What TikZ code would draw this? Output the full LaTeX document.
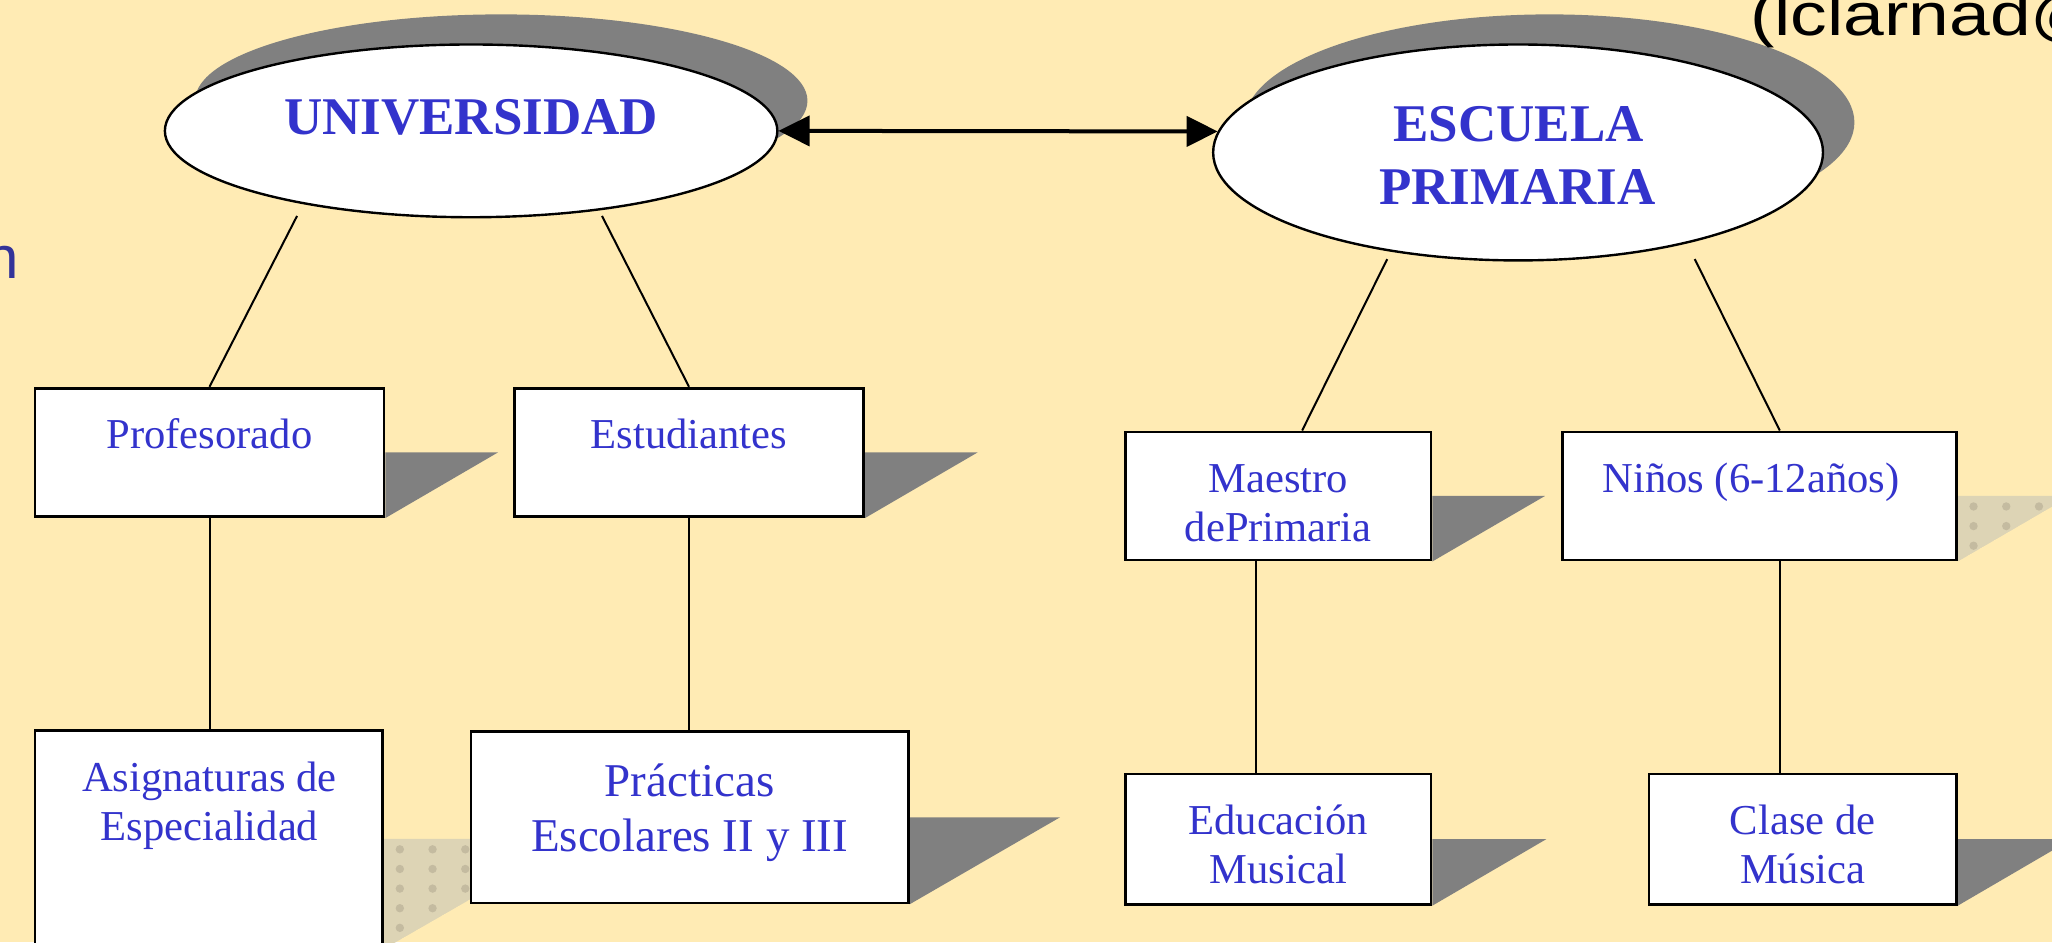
\documentclass[tikz,border=0pt]{standalone}
\usepackage{fontspec}
\usepackage{graphicx}
\setmainfont{Liberation Serif}
\newfontfamily\arialfont{Liberation Sans}
\usetikzlibrary{shapes.geometric,arrows.meta,calc}
\definecolor{bgyellow}{RGB}{255,235,180}
\definecolor{txtblue}{RGB}{51,51,204}
\definecolor{nblue}{RGB}{51,51,153}
\definecolor{shadowgray}{RGB}{128,128,128}
\definecolor{patshadow}{RGB}{221,212,181}
\definecolor{patdot}{RGB}{196,187,160}
\newcommand\pxu{0.6543pt}
\pgfdeclarelayer{bglayer}
\pgfdeclarelayer{shadowlayer}
\pgfsetlayers{bglayer,shadowlayer,main}
\begin{document}
\begin{tikzpicture}[x=0.6543pt,y=-0.6543pt,
  boxnode/.style={draw=black,line width=1.35pt,fill=white,rectangle,inner sep=0pt},
  ellnode/.style={draw=black,line width=1.2pt,fill=white,ellipse,inner sep=0pt},
  ellshadow/.style={fill=shadowgray,ellipse,inner sep=0pt},
  lbl/.style={text=txtblue,inner sep=0pt,anchor=base,font=\fontsize{21.3pt}{25pt}\selectfont},
  biglbl/.style={text=txtblue,inner sep=0pt,anchor=base,font=\fontsize{23.5pt}{28pt}\selectfont},
  head/.style={text=txtblue,inner sep=0pt,anchor=base,font=\bfseries\fontsize{26.5pt}{31pt}\selectfont},
  conn/.style={line width=1pt,draw=black},
  boxshadow/.style={fill=shadowgray},
  patshade/.style={fill=patshadow},
  dbl/.style={line width=2pt,{Triangle[length=15.5pt,width=15pt]}-{Triangle[length=15.5pt,width=15pt]}}
]
\useasboundingbox (0,0) rectangle (1568,720);
\begin{pgfonlayer}{bglayer}
\fill[bgyellow] (0,0) rectangle (1568,720);
\end{pgfonlayer}

% ellipses
\node[ellnode, minimum width=468*\pxu, minimum height=132*\pxu] (univ) at (360,100) {};
\node[ellnode, minimum width=466*\pxu, minimum height=165*\pxu] (esc) at (1160,116.5) {};
\begin{pgfonlayer}{shadowlayer}
\node[ellshadow, minimum width=468*\pxu, minimum height=132*\pxu] (univsh) at (383,77) {};
\node[ellshadow, minimum width=466*\pxu, minimum height=165*\pxu] (escsh) at (1184,93.5) {};
\node[font=\arialfont\fontsize{30pt}{36pt}\selectfont, anchor=base west, inner sep=0pt] (stray) at (1337,27) {\scalebox{1.22}[1]{(lclarnad@}};
\end{pgfonlayer}

\node[head] (univt) at (360,103) {UNIVERSIDAD};
\node[head] (esct1) at (1160.5,108.3) {ESCUELA};
\node[head] (esct2) at (1159.5,156) {PRIMARIA};

\draw[dbl] (univ.east) -- (esc.176);

% left stray letter
\node[font=\arialfont\fontsize{30pt}{36pt}\selectfont, text=nblue, anchor=base east, inner sep=0pt] (leftn) at (14.5,212.6) {n};

% boxes
\node[boxnode, minimum width=266.8*\pxu, minimum height=98.2*\pxu] (prof) at (160.1,345.7) {};
\node[boxnode, minimum width=267*\pxu, minimum height=98.2*\pxu] (est) at (526.5,345.7) {};
\node[boxnode, minimum width=233.5*\pxu, minimum height=98*\pxu] (maes) at (976.75,379) {};
\node[boxnode, minimum width=301*\pxu, minimum height=98*\pxu] (nin) at (1344.5,379) {};
\node[boxnode, minimum width=265.7*\pxu, minimum height=166*\pxu] (asig) at (159.65,641) {};
\node[boxnode, minimum width=334*\pxu, minimum height=131*\pxu] (prac) at (527,624.5) {};
\node[boxnode, minimum width=233.5*\pxu, minimum height=99.5*\pxu] (educ) at (976.75,641.25) {};
\node[boxnode, minimum width=235*\pxu, minimum height=99.5*\pxu] (clase) at (1377.5,641.25) {};

\begin{pgfonlayer}{shadowlayer}
\fill[boxshadow] (prof.east) -- ++(86,0) -- (prof.south east) -- cycle;
\fill[boxshadow] (est.east) -- ++(86,0) -- (est.south east) -- cycle;
\fill[boxshadow] (maes.east) -- ++(86,0) -- (maes.south east) -- cycle;
\begin{scope}
\clip (nin.east) -- ++(86,0) -- (nin.south east) -- cycle;
\fill[patshade] (nin.east) -- ++(86,0) -- (nin.south east) -- cycle;
\foreach \i in {0,...,3}{\foreach \j in {0,...,3}{
  \fill[patdot] ($(nin.east)+(12+25*\i,8+15*\j)$) circle[radius=3.2*\pxu];}}
\end{scope}
\begin{scope}
\clip (asig.east) -- ++(146,0) -- (asig.south east) -- cycle;
\fill[patshade] (asig.east) -- ++(146,0) -- (asig.south east) -- cycle;
\foreach \i in {0,...,5}{\foreach \j in {0,...,5}{
  \fill[patdot] ($(asig.east)+(12+25*\i,8+15*\j)$) circle[radius=3.2*\pxu];}}
\end{scope}
\fill[boxshadow] (prac.east) -- ++(115,0) -- (prac.south east) -- cycle;
\fill[boxshadow] (educ.east) -- ++(87,0) -- (educ.south east) -- cycle;
\fill[boxshadow] (clase.east) -- ++(87,0) -- (clase.south east) -- cycle;
\end{pgfonlayer}

% box texts
\node[lbl] (proft) at (160.1,343) {Profesorado};
\node[lbl] (estt) at (526.5,343) {Estudiantes};
\node[lbl] (maest1) at (976.75,376) {Maestro};
\node[lbl] (maest2) at (976.75,413.5) {dePrimaria};
\node[lbl] (nint) at (1338,376) {Niños (6-12años)};
\node[lbl] (asigt1) at (160,605) {Asignaturas de};
\node[lbl] (asigt2) at (160,642) {Especialidad};
\node[biglbl] (pract1) at (527,609) {Prácticas};
\node[biglbl] (pract2) at (527,651) {Escolares II y III};
\node[lbl] (educt1) at (976.75,637.7) {Educación};
\node[lbl] (educt2) at (976.75,675) {Musical};
\node[lbl] (claset1) at (1377.5,637.7) {Clase de};
\node[lbl] (claset2) at (1377.5,675) {Música};

% connectors
\coordinate (u1) at (227,165);
\coordinate (u2) at (460,165);
\coordinate (e1) at (1060,198);
\coordinate (e2) at (1295,198);
\coordinate (xmt) at (995,0);
\coordinate (xm) at (960,0);
\coordinate (xn) at (1360,0);
\draw[conn] (u1) -- (prof.north);
\draw[conn] (u2) -- (est.north);
\draw[conn] (e1) -- (maes.north -| xmt);
\draw[conn] (e2) -- (nin.north -| xn);
\draw[conn] (prof.south) -- (prof.south |- asig.north);
\draw[conn] (est.south) -- (est.south |- prac.north);
\draw[conn] (maes.south -| xm) -- (educ.north -| xm);
\draw[conn] (nin.south -| xn) -- (clase.north -| xn);
\end{tikzpicture}
\end{document}
